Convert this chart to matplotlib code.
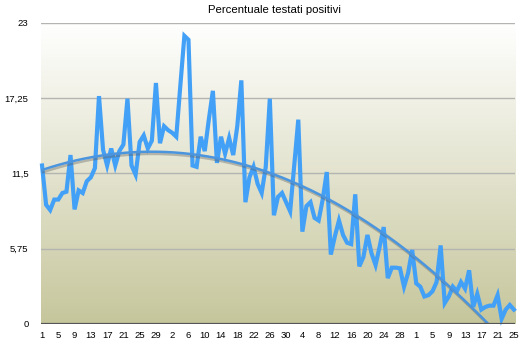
import numpy as np
import matplotlib
matplotlib.use("Agg")
import matplotlib.pyplot as plt
import matplotlib.patheffects as pe
from matplotlib.colors import LinearSegmentedColormap

plt.rcParams['font.family'] = ['Liberation Sans', 'DejaVu Sans']

# Percentuale testati positivi, one value per day (1 March - 25 June)
positivi = [
    12.1, 9.1, 8.7, 9.5, 9.5, 10.0, 10.1, 12.9, 8.75, 10.2,
    10.0, 10.9, 11.2, 11.9, 17.4, 13.3, 12.1, 13.4, 12.1, 13.2,
    13.7, 17.2, 12.1, 11.4, 13.9, 14.4, 13.4, 14.0, 18.4, 13.8,
    15.1, 14.8, 14.6, 14.3, 18.2, 22.0, 21.7, 12.1, 12.0, 14.3,
    13.2, 15.6, 17.8, 12.3, 14.3, 13.0, 14.2, 12.9, 15.1, 18.6,
    9.3, 11.2, 12.0, 10.7, 10.0, 12.0, 17.2, 8.3, 9.7, 10.0,
    9.3, 8.6, 12.1, 15.6, 7.05, 9.0, 9.3, 8.1, 7.9, 9.5,
    11.6, 5.3, 6.7, 7.9, 6.8, 6.2, 6.1, 9.9, 4.4, 5.1,
    6.8, 5.4, 4.5, 5.9, 7.4, 3.5, 4.3, 4.3, 4.25, 2.85,
    3.9, 5.65, 3.1, 2.85, 2.1, 2.2, 2.5, 3.2, 6.0, 1.6,
    2.1, 2.85, 2.5, 3.2, 2.7, 4.1, 1.3, 2.3, 1.1, 1.3,
    1.4, 1.4, 2.2, 0.4, 1.1, 1.45, 1.1,
]

tick_labels = ["1", "5", "9", "13", "17", "21", "25", "29",
               "2", "6", "10", "14", "18", "22", "26", "30",
               "4", "8", "12", "16", "20", "24", "28",
               "1", "5", "9", "13", "17", "21", "25"]

y_ticks = [0, 5.75, 11.5, 17.25, 23]
y_tick_labels = ["0", "5,75", "11,5", "17,25", "23"]

x = np.arange(len(positivi))
y = np.array(positivi)

fig = plt.figure(figsize=(5.28, 3.5), dpi=100)
ax = fig.add_axes([0.0777, 0.0743, 0.8986, 0.8607])

xmin, xmax = -0.25, len(positivi) - 0.6
ax.set_xlim(xmin, xmax)
ax.set_ylim(0, 23)

# background gradient, white on top to khaki at the bottom
cmap = LinearSegmentedColormap.from_list("bg", ["#c6c69c", "#e3e3cf", "#ffffff"])
grad = np.linspace(0, 1, 256).reshape(-1, 1)
ax.imshow(grad, extent=[xmin, xmax, 0, 23], origin="lower", aspect="auto",
          cmap=cmap, zorder=0)

# gridlines
for t in y_ticks[1:]:
    ax.axhline(t, color="#b4b4b0", lw=1.0, zorder=1)
ax.axhline(0, color="#555555", lw=1.6, zorder=4)

# data line
ax.plot(x, y, color="#43a0f7", lw=3.0, solid_joinstyle="miter", zorder=3,
        clip_on=False)

# polynomial trend line (degree 2)
coef = np.polyfit(x, y, 2)
xs = np.linspace(0, x[-1], 400)
ys = np.polyval(coef, xs)
ax.plot(xs, ys, color="#4a95de", lw=1.8, zorder=3,
        path_effects=[pe.SimpleLineShadow(offset=(0.8, -1.6), shadow_color="#555555", alpha=0.35),
                      pe.Normal()])

ax.set_xticks(x[::4])
ax.set_xticklabels(tick_labels, fontsize=6.8)
ax.set_yticks(y_ticks)
ax.set_yticklabels(y_tick_labels, fontsize=6.8)
ax.tick_params(axis="both", length=0)
ax.tick_params(axis="x", pad=5)
ax.tick_params(axis="y", pad=9)

for s in ax.spines.values():
    s.set_visible(False)

fig.text(0.52, 0.985, "Percentuale testati positivi", ha="center", va="top", fontsize=8.2)

fig.savefig("out.png", dpi=100)
